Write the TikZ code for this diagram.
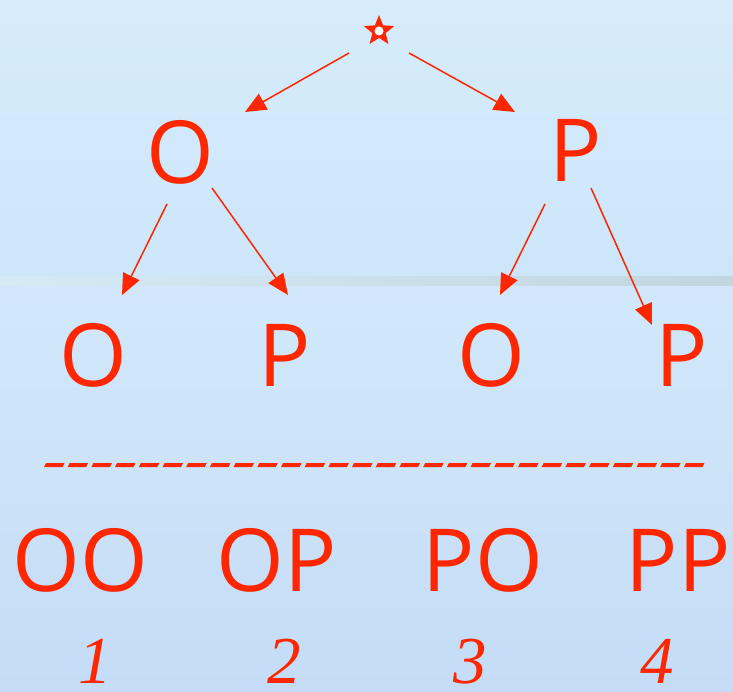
\documentclass[tikz,border=0pt]{standalone}
\usepackage{fontspec}
\setmainfont{Open Sans}
\newfontfamily\digitfont{Liberation Serif}
\usetikzlibrary{arrows.meta,calc,shapes.geometric}
\definecolor{tred}{RGB}{255,38,0}
\definecolor{bgA}{RGB}{214,236,252}
\definecolor{bgB}{RGB}{205,230,250}
\definecolor{bgC}{RGB}{210,232,250}
\definecolor{bgD}{RGB}{196,220,246}
\definecolor{bandL}{RGB}{212,234,244}
\definecolor{bandR}{RGB}{194,214,224}
\tikzset{
  letter/.style={text=tred, font=\fontsize{87}{87}\selectfont, inner sep=0pt, anchor=base},
  numlabel/.style={text=tred, font=\digitfont\itshape\fontsize{67}{67}\selectfont, inner sep=0pt, anchor=base, text depth=0pt},
  arr/.style={draw=tred, line width=1.5pt, -{Triangle[length=21pt,width=18pt]}},
}
\begin{document}
\begin{tikzpicture}[x=1pt,y=-1pt]
\useasboundingbox (0,0) rectangle (733,692);
% background
\shade[top color=bgA, bottom color=bgB] (0,0) rectangle (733,277);
\shade[top color=bgC, bottom color=bgD] (0,286) rectangle (733,692);
\shade[left color=bandL, right color=bandR] (0,277) rectangle (733,286);
% star
\node[star, star points=5, star point ratio=2.3, minimum size=32pt, inner sep=0pt, fill=tred] (star) at (379,31) {};
\fill[white] (star.center) circle (4.5pt);
% top level
\node[letter] (O1) at (180,184) {O};
\node[letter] (P1) at (576,182) {P};
% second level
\node[letter] (O2) at (93,386) {O};
\node[letter] (P2) at (285,386) {P};
\node[letter] (O3) at (491,386) {O};
\node[letter] (P4) at (682,386) {P};
% arrows
\draw[arr] ($(star)+(-30,22)$) -- ($(O1.base)+(65,-72)$);
\draw[arr] ($(star)+(30,22)$) -- ($(P1.base)+(-61,-70)$);
\draw[arr] ($(O1.base)+(-13,20)$) -- ($(O2.base)+(29,-91)$);
\draw[arr] ($(O1.base)+(32,4)$) -- ($(P2.base)+(3,-91)$);
\draw[arr] ($(P1.base)+(-31,22)$) -- ($(O3.base)+(9,-91)$);
\draw[arr] ($(P1.base)+(15,6)$) -- ($(P4.base)+(-30,-61)$);
% dashed separator
\foreach \i in {0,...,27} {
  \fill[tred] ({44+23.7*\i},467) -- ({62.5+23.7*\i},467) -- ({64.5+23.7*\i},463) -- ({46+23.7*\i},463) -- cycle;
}
% combinations
\node[letter] (OO) at (80,591) {OO};
\node[letter] (OP) at (277,591) {OP};
\node[letter] (PO) at (483,591) {PO};
\node[letter] (PP) at (678,591) {PP};
% numbers
\node[numlabel] (n1) at (95,683) {1};
\node[numlabel] (n2) at (284,683) {2};
\node[numlabel] (n3) at (470,683) {3};
\node[numlabel] (n4) at (657,683) {4};
\end{tikzpicture}
\end{document}
